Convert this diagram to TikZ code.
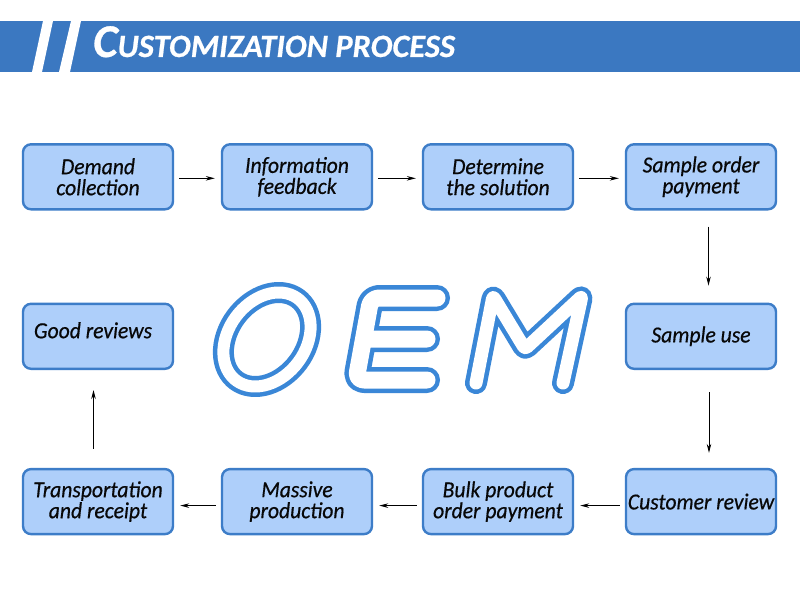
\documentclass[tikz,border=0pt]{standalone}
\usepackage{fontspec}
\setmainfont{Carlito}
\newfontfamily\boxfont[FakeStretch=0.94,FakeBold=0.5]{Carlito}
\newfontfamily\titlefont[FakeBold=0.6]{Carlito}
\usetikzlibrary{arrows.meta}
\definecolor{hdrblue}{HTML}{3B78C1}
\definecolor{boxfill}{HTML}{AECFFA}
\definecolor{boxline}{HTML}{3D7DC8}
\definecolor{boxtext}{HTML}{080808}
\definecolor{oemblue}{HTML}{3A87D7}
\begin{document}
\begin{tikzpicture}[x=1pt,y=-1pt,
  box/.style={draw=boxline, fill=boxfill, line width=2.4pt, rounded corners=8pt,
    minimum width=150pt, minimum height=65pt, inner sep=0pt, align=center,
    font=\boxfont\itshape\fontsize{23}{21}\selectfont, text=boxtext},
  arr/.style={-{Stealth[length=9pt,width=4.5pt]}, line width=0.9pt, black},
  oem/.style={line width=4.5pt, draw=oemblue, double=white, line join=round, line cap=round}]
\fill[white] (0,0) rectangle (800,591);
\useasboundingbox (0,0) rectangle (800,591);
% header
\fill[hdrblue] (0,21) rectangle (800,72);
\fill[white] (43,21) -- (53,21) -- (42,72) -- (32,72) -- cycle;
\fill[white] (71,21) -- (81,21) -- (70,72) -- (59,72) -- cycle;
\node[anchor=base west, inner sep=0pt, text=white, font=\titlefont\bfseries\itshape] (title) at (93,57)
  {\fontsize{47}{47}\selectfont C\fontsize{32.5}{32.5}\selectfont USTOMIZATION PROCESS};
% OEM
\draw[oem, double distance=12pt, shift={(267,339.5)}, xslant=0.25] (0,0) ellipse [x radius=42, y radius=47];
\draw[oem, double distance=17pt, rounded corners=8pt] (437,298) -- (371,298) -- (356,380) -- (427,380)
  (363.5,339) -- (427,339);
\draw[oem, double distance=13pt, rounded corners=3pt] (476,383) -- (493,296) -- (525,349) -- (582,296) -- (563,383);
% boxes
\node[box] (n1) at (98,176.8) {Demand\\collection};
\node[box] (n2) at (297,176.8) {Information\\feedback};
\node[box] (n3) at (498,176.8) {Determine\\the solution};
\node[box] (n4) at (701,176.8) {Sample order\\payment};
\node[box] (n5) at (701,336.3) {Sample use};
\node[box] (n6) at (701,501.6) {Customer review};
\node[box] (n7) at (498,501.6) {Bulk product\\order payment};
\node[box] (n8) at (297,501.6) {Massive\\production};
\node[box] (n9) at (98,501.6) {Transportation\\and receipt};
\node[box] (n10) at (98,336.3) {\raisebox{6pt}[\height][\depth]{Good reviews}\hspace*{10pt}};
% arrows
\draw[arr, shorten <=5pt, shorten >=6pt] ([yshift=-1.5pt]n1.east) -- ([yshift=-1.5pt]n2.west);
\draw[arr, shorten <=5pt, shorten >=6pt] ([yshift=-1.5pt]n2.east) -- ([yshift=-1.5pt]n3.west);
\draw[arr, shorten <=5pt, shorten >=6pt] ([yshift=-1.5pt]n3.east) -- ([yshift=-1.5pt]n4.west);
\draw[arr, shorten <=16pt, shorten >=17pt] ([xshift=7.5pt]n4.south) -- ([xshift=7.5pt]n5.north);
\draw[arr, shorten <=22pt, shorten >=15pt] ([xshift=8pt]n5.south) -- ([xshift=8pt]n6.north);
\draw[arr, shorten <=5pt, shorten >=6pt] ([yshift=-4pt]n6.west) -- ([yshift=-4pt]n7.east);
\draw[arr, shorten <=5pt, shorten >=6pt] ([yshift=-4pt]n7.west) -- ([yshift=-4pt]n8.east);
\draw[arr, shorten <=5pt, shorten >=6pt] ([yshift=-4pt]n8.west) -- ([yshift=-4pt]n9.east);
\draw[arr, shorten <=19pt, shorten >=20pt] ([xshift=-4.5pt]n9.north) -- ([xshift=-4.5pt]n10.south);
\end{tikzpicture}
\end{document}
